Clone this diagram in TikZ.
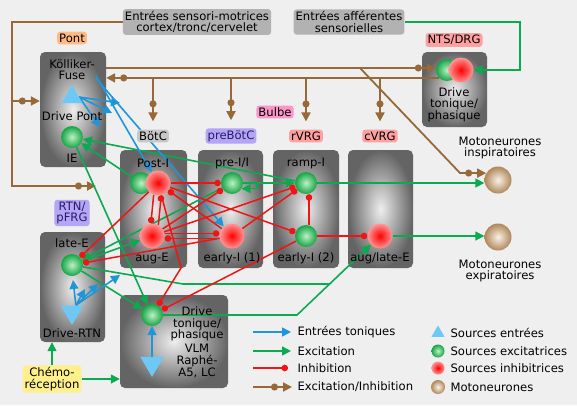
\documentclass[tikz,border=0pt]{standalone}
\usepackage{fontspec}
\setmainfont{DejaVu Sans}
\usetikzlibrary{positioning,arrows.meta,shapes.geometric,calc}

\definecolor{bgcol}{RGB}{239,239,239}
\definecolor{boxin}{RGB}{238,238,238}
\definecolor{boxout}{RGB}{100,100,100}
\definecolor{excin}{RGB}{190,240,195}
\definecolor{excout}{RGB}{20,165,70}
\definecolor{inhin}{RGB}{255,0,0}
\definecolor{inhout}{RGB}{255,150,150}
\definecolor{motoin}{RGB}{250,242,230}
\definecolor{motoout}{RGB}{175,135,90}
\definecolor{srcblue}{RGB}{110,200,245}
\definecolor{tonblue}{RGB}{30,150,215}
\definecolor{excgreen}{RGB}{10,170,80}
\definecolor{inhred}{RGB}{240,20,20}
\definecolor{exbrown}{RGB}{150,105,55}
\definecolor{pontcol}{RGB}{255,185,130}
\definecolor{vrgcol}{RGB}{255,160,160}
\definecolor{bulbecol}{RGB}{250,150,200}
\definecolor{precol}{RGB}{180,165,245}
\definecolor{prtext}{RGB}{40,25,110}
\definecolor{chemocol}{RGB}{255,240,140}

\pgfdeclarelayer{bg}
\pgfdeclarelayer{edges}
\pgfsetlayers{bg,edges,main}

\begin{document}
\begin{tikzpicture}[x=1pt,y=-1pt,font=\fontsize{11.6}{11.6}\selectfont,
  box/.style={rounded corners=5pt,inner color=boxin,outer color=boxout},
  exc/.style={circle,minimum size=22pt,inner sep=0pt,inner color=excin,outer color=excout},
  inh/.style={circle,minimum size=25pt,inner sep=0pt,inner color=inhin,outer color=inhout},
  moto/.style={circle,minimum size=27pt,inner sep=0pt,inner color=motoin,outer color=motoout},
  src/.style={regular polygon,regular polygon sides=3,inner sep=0pt,fill=srcblue},
  tag/.style={rounded corners=3pt,inner sep=2pt,align=center},
  txt/.style={align=center,inner sep=1pt},
  ton/.style={draw=tonblue,line width=1.6pt,-{Triangle[length=9pt,width=9pt]}},
  exci/.style={draw=excgreen,line width=1.6pt,-{Triangle[length=9pt,width=9pt]}},
  exline/.style={draw=excgreen,line width=1.6pt},
  inhib/.style={draw=inhred,line width=1.5pt,-{Circle[length=6.5pt]}},
  exin/.style={draw=exbrown,line width=1.8pt,
    -{Circle[length=7pt] Rectangle[length=5pt,width=1.8pt] Triangle[length=9pt,width=9pt]}}]

\begin{pgfonlayer}{bg}
  \fill[bgcol] (0,0) rectangle (577,405);
  \node[box,minimum width=66pt,minimum height=115pt] (pontbox) at (73,109.5) {};
  \node[box,minimum width=67pt,minimum height=118pt] (botcbox) at (153.5,209) {};
  \node[box,minimum width=65pt,minimum height=118pt] (prebotcbox) at (230.5,209) {};
  \node[box,minimum width=66pt,minimum height=118pt] (rvrgbox) at (306,209) {};
  \node[box,minimum width=65pt,minimum height=118pt] (cvrgbox) at (380.5,209) {};
  \node[box,minimum width=65pt,minimum height=110pt] (rtnbox) at (72.5,287) {};
  \node[box,minimum width=108pt,minimum height=93pt] (vlmbox) at (174,341.5) {};
  \node[box,minimum width=65pt,minimum height=75pt] (ntsbox) at (454.5,89.5) {};
\end{pgfonlayer}
\useasboundingbox (0,0) rectangle (577,405);

% region labels
\node[tag,fill=pontcol] (pontlab) at (72,38) {Pont};
\node[tag,fill=black!22] (botclab) at (153,136) {BötC};
\node[tag,fill=precol,text=prtext] (prebotclab) at (231,136) {preBötC};
\node[tag,fill=vrgcol] (rvrglab) at (306,136) {rVRG};
\node[tag,fill=vrgcol] (cvrglab) at (380,136) {cVRG};
\node[tag,fill=bulbecol] (bulbelab) at (275,112) {Bulbe};
\node[tag,fill=vrgcol] (ntslab) at (454,40) {NTS/DRG};
\node[tag,fill=precol,text=prtext] (rtnlab) at (72,213) {RTN/\\pFRG};
\node[tag,fill=chemocol] (chemo) at (52,379) {Chémo-\\réception};
\node[tag,fill=black!30] (sm) at (197,22) {Entrées sensori-motrices\\cortex/tronc/cervelet};
\node[tag,fill=black!30] (af) at (349,22) {Entrées afférentes\\sensorielles};

% Pont
\node[txt] (kf) at (72,69.5) {Kölliker-\\Fuse};
\node[src,minimum size=24pt] (dp) at (72,97) {};
\node[txt] (dptxt) at (72,116) {Drive Pont};
\node[exc] (ie) at (72,137) {};
\node[txt] (ietxt) at (72,158) {IE};

% Bulbe
\node[txt] (posttxt) at (153,163) {Post-I};
\node[exc] (pe) at (141,183) {};
\node[inh] (pi) at (158,183) {};
\node[inh] (auge) at (152,236) {};
\node[txt] (augtxt) at (152,258) {aug-E};
\node[txt] (pretxt) at (232,163) {pre-I/I};
\node[exc] (prei) at (232,183) {};
\node[inh] (ei1) at (232,236) {};
\node[txt] (ei1txt) at (232,258) {early-I (1)};
\node[txt] (ramptxt) at (306,163) {ramp-I};
\node[exc] (ramp) at (306,183) {};
\node[exc] (ei2) at (306,236) {};
\node[txt] (ei2txt) at (306,258) {early-I (2)};
\node[inh] (augl) at (380,236) {};
\node[txt] (augltxt) at (380,258) {aug/late-E};

% RTN
\node[txt] (latetxt) at (72,243) {late-E};
\node[exc] (late) at (72,265) {};
\node[src,minimum size=26pt,shape border rotate=180] (drtn) at (72,312) {};
\node[txt] (drtntxt) at (72,333) {Drive-RTN};

% VLM
\node[exc] (vlm) at (152,315) {};
\node[txt] (vlmtxt1) at (197,324) {Drive\\tonique/\\phasique};
\node[txt] (vlmtxt2) at (197,361) {VLM\\Raphé-\\A5, LC};
\node[src,minimum size=27pt,shape border rotate=180] (vt) at (152,363.5) {};

% NTS
\node[exc] (ntse) at (447,70) {};
\node[inh] (ntsi) at (461,70) {};
\node[txt] (ntstxt) at (454,104.5) {Drive\\tonique/\\phasique};

% motoneurones
\node[moto] (mi) at (498,180) {};
\node[moto] (me) at (498,237) {};
\node[txt] (mitxt) at (500,148) {Motoneurones\\inspiratoires};
\node[txt] (metxt) at (500,271) {Motoneurones\\expiratoires};

\begin{pgfonlayer}{edges}
  % excitation/inhibition
  \coordinate (smk) at (12,186);
  \coordinate (smt) at (96,186);
  \draw[exin] (sm.west) -| (smk) -- (smt);
  \coordinate (brp) at (12,101);
  \draw[exin] (brp) -- (brp -| pontbox.west);
  \coordinate (kfo) at (106,68);
  \draw[exin] (kfo) -- (kfo -| ntse.west);
  \coordinate (dg) at (360,68);
  \coordinate (dk) at (460,173);
  \draw[exin] (dg) -- (dk) -- (mi.150);
  \draw[exin] (ntse.south west) -- (ntse.south west -| pontbox.east);
  \coordinate (nl) at (ntse.south west);
  \foreach \lb in {botclab,prebotclab,rvrglab,cvrglab}
    \draw[exin] (\lb |- nl) -- ($(\lb.north)+(0,-8)$);

  % excitation
  \coordinate (afk) at (520,70);
  \draw[exci] (af.east) -| (afk) -- (ntsi.east);
  \draw[exci] (ramp.east) -- (ramp.east -| mi.west);
  \draw[exci] (augl.east) -- (augl.east -| me.west);
  \draw[exci] (pe) -- (ie);
  \draw[exci] (ramp) -- (ie);
  \draw[exci] (prei) -- (ramp);
  \draw[exci] (prei.east) -- ++(14,0) |- (prei.-30);
  \draw[exci] (prei) -- (late);
  \draw[exci] (late) -- (auge);
  \draw[exci] (ie) -- (vlm);
  \draw[exci] (late) -- (vlm);
  \coordinate (lk1) at (183,284);
  \coordinate (lk2) at (330,284);
  \draw[exline] (late) -- (lk1) -- (lk2);
  \coordinate (dk1) at (297,315);
  \draw[exci] (vlm) -- (dk1) -- (augl);
  \draw[exci] (chemo.north) -- (chemo.north |- rtnbox.south);
  \draw[exci] (chemo.east) -- (chemo.east -| vlmbox.west);

  % entrees toniques
  \coordinate (tp1) at (120,103);
  \coordinate (tp2) at (112,113);
  \coordinate (tp3) at (100,127);
  \foreach \t in {tp1,tp2,tp3}
    \draw[ton] (dp.0) -- (\t);
  \draw[ton] (kf.-15) -- (pi);
  \draw[ton] (kf.-20) -- (ei1);
  \coordinate (rt1) at (73,280);
  \coordinate (rt2) at (85,289);
  \coordinate (rt3) at (98,284);
  \coordinate (rt4) at (120,275);
  \foreach \t in {rt1,rt2,rt3,rt4}
    \draw[ton] (drtn.60) -- (\t);
  \draw[ton] (vt) -- (vlm);

  % inhibition
  \draw[inhib] (pi) -- (prei);
  \draw[inhib] (pi.-110) -- (auge.95);
  \draw[inhib] (auge.60) -- (pi.-75);
  \draw[inhib] ([yshift=2.5pt]auge.east) -- ([yshift=2.5pt]ei1.west);
  \draw[inhib] ([yshift=-2.5pt]ei1.west) -- ([yshift=-2.5pt]auge.east);
  \draw[inhib] (auge) -- (prei);
  \draw[inhib] (ei1) -- (pi);
  \draw[inhib] (pi) -- (ei2);
  \draw[inhib] (auge) -- (ramp);
  \draw[inhib] (ei1) -- (ramp);
  \draw[inhib] ([xshift=3pt]ei2.north) -- ([xshift=3pt]ramp.south);
  \draw[inhib] (ei2) -- (augl);
  \draw[inhib] (pi) -- (late);
  \draw[inhib] (ei1) -- (late);
  \coordinate (pd) at (181,268);
  \draw[inhib] (pi) -- (pd) -- (vlm);
  \draw[inhib] (ei2) -- (vlm);
\end{pgfonlayer}

% legend
\coordinate (l1a) at (253,332);
\coordinate (l1b) at (291,332);
\draw[ton] (l1a) -- (l1b);
\node[anchor=west] (l1t) at (294,332) {Entrées toniques};
\coordinate (l2a) at (253,351);
\coordinate (l2b) at (291,351);
\draw[exci] (l2a) -- (l2b);
\node[anchor=west] (l2t) at (294,351) {Excitation};
\coordinate (l3a) at (253,368);
\coordinate (l3b) at (288,368);
\draw[inhib] (l3a) -- (l3b);
\node[anchor=west] (l3t) at (294,368) {Inhibition};
\coordinate (l4a) at (253,387);
\coordinate (l4b) at (292,387);
\draw[exin] (l4a) -- (l4b);
\node[anchor=west] (l4t) at (294,387) {Excitation/Inhibition};

\node[src,minimum size=15pt] (k1) at (438,333) {};
\node[anchor=west] (k1t) at (447,333) {Sources entrées};
\node[exc,minimum size=13pt] (k2) at (438,351) {};
\node[anchor=west] (k2t) at (447,351) {Sources excitatrices};
\node[inh,minimum size=13pt] (k3) at (438,368) {};
\node[anchor=west] (k3t) at (447,368) {Sources inhibitrices};
\node[moto,minimum size=14pt] (k4) at (438,387) {};
\node[anchor=west] (k4t) at (447,387) {Motoneurones};
\end{tikzpicture}
\end{document}
